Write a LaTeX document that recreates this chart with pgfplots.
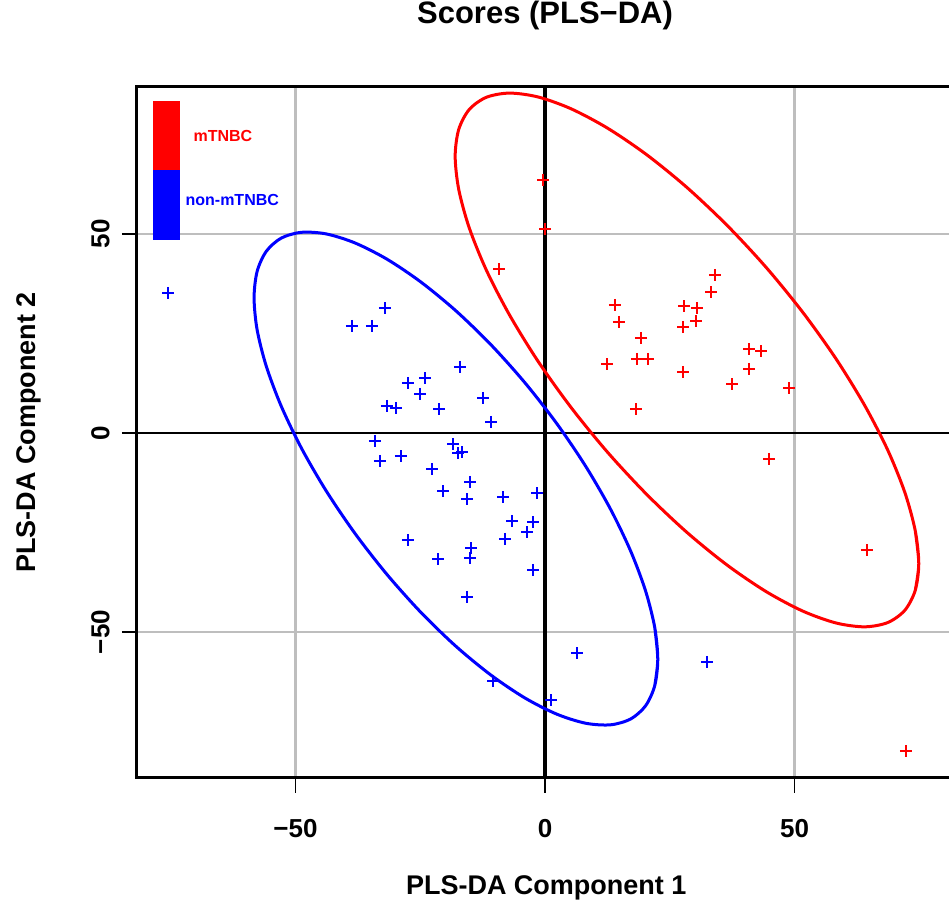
\documentclass[border=0pt]{standalone}
\usepackage{pgfplots}
\pgfplotsset{compat=1.18}
\usepackage{fontspec}
\setmainfont{Liberation Sans}

\definecolor{rred}{RGB}{255,0,0}
\definecolor{rblue}{RGB}{0,0,255}
\definecolor{rgrid}{RGB}{190,190,190}

\begin{document}
\begin{tikzpicture}
\begin{axis}[
  name=ax,
  scale only axis,
  width=406pt, height=345.5pt,
  xmin=-81.76, xmax=80.96,
  ymin=-86.68, ymax=86.93,
  xtick={-50,0,50}, ytick={-50,0,50},
  xticklabels={−50,0,50}, yticklabels={−50,0,50},
  tick pos=left, tick align=outside,
  major tick length=7.5pt,
  tick style={black, line width=0.8pt},
  grid=major,
  major grid style={rgrid, line width=1.4pt},
  axis line style={draw=none},
  tick label style={font=\bfseries\fontsize{13}{15}\selectfont, inner sep=0pt},
  xticklabel style={anchor=north},
  yticklabel style={rotate=90, anchor=south},
  xticklabel shift=13pt,
  yticklabel shift=6pt,
  title={Scores (PLS−DA)},
  title style={at={(axis description cs:0.5025,1.0868)}, anchor=center,
    font=\bfseries\fontsize{15.5}{18}\selectfont},
  xlabel={PLS-DA Component 1},
  xlabel style={at={(axis description cs:0.504,-0.1592)}, anchor=center,
    font=\bfseries\fontsize{13.5}{16}\selectfont},
  ylabel={PLS-DA Component 2},
  ylabel style={at={(axis description cs:-0.133,0.5)}, anchor=center,
    font=\bfseries\fontsize{13.5}{16}\selectfont},
]
% zero lines
\draw[black, line width=2pt] (axis cs:0,-86.68) -- (axis cs:0,86.93);
\draw[black, line width=1pt] (axis cs:-81.76,0) -- (axis cs:80.96,0);

% confidence ellipses, outline points
% (first and last points overlap so the closed curve joins smoothly)
\addplot[rblue, line width=1.5pt, smooth] coordinates {
  (21.99,-63.49)
  (22.60,-56.86) (21.99,-48.85) (20.16,-39.71) (17.18,-29.71) (13.13,-19.14)
  (8.15,-8.36) (2.38,2.33) (-4.02,12.62) (-10.83,22.17) (-17.85,30.69)
  (-24.87,37.93) (-31.68,43.68) (-38.08,47.75) (-43.85,50.02) (-48.83,50.42)
  (-52.88,48.95) (-55.86,45.63) (-57.69,40.59) (-58.30,33.96) (-57.69,25.95)
  (-55.86,16.81) (-52.88,6.81) (-48.83,-3.76) (-43.85,-14.54) (-38.08,-25.23)
  (-31.68,-35.52) (-24.87,-45.07) (-17.85,-53.59) (-10.83,-60.83) (-4.02,-66.58)
  (2.38,-70.65) (8.15,-72.92) (13.13,-73.32) (17.18,-71.85) (20.16,-68.53)
  (21.99,-63.49) (22.60,-56.86)
  (21.99,-48.85)
};
\addplot[rred, line width=1.5pt, smooth] coordinates {
  (74.19,-39.56)
  (74.90,-32.82) (74.19,-24.52) (72.10,-14.91) (68.68,-4.29) (64.03,7.00)
  (58.31,18.65) (51.68,30.28) (44.34,41.57) (36.51,52.14) (28.45,61.68)
  (20.39,69.90) (12.56,76.57) (5.22,81.46) (-1.41,84.43) (-7.13,85.40)
  (-11.78,84.33) (-15.20,81.25) (-17.29,76.26) (-18.00,69.52) (-17.29,61.22)
  (-15.20,51.61) (-11.78,40.99) (-7.13,29.70) (-1.41,18.05) (5.22,6.42)
  (12.56,-4.87) (20.39,-15.44) (28.45,-24.98) (36.51,-33.20) (44.34,-39.87)
  (51.68,-44.76) (58.31,-47.73) (64.03,-48.70) (68.68,-47.63) (72.10,-44.55)
  (74.19,-39.56) (74.90,-32.82)
  (74.19,-24.52)
};

% mTNBC
\addplot[only marks, mark=+, mark size=3pt, rred, mark options={line width=1pt}] coordinates {
  (-0.4,63.5) (0,51.3) (-9.2,41.2) (34.1,39.7) (33.3,35.4) (14.0,32.2)
  (14.8,27.9) (27.9,31.9) (30.5,31.4) (30.3,28.1) (27.7,26.6) (19.2,23.9)
  (18.4,18.6) (20.6,18.6) (12.4,17.3) (27.7,15.3) (40.9,21.1) (43.3,20.6)
  (40.9,16.1) (37.5,12.3) (48.9,11.3) (18.2,6.0) (44.9,-6.5) (64.5,-29.4)
  (72.3,-79.9)
};
% non-mTNBC
\addplot[only marks, mark=+, mark size=3pt, rblue, mark options={line width=1pt}] coordinates {
  (-75.5,35.2) (-32.1,31.4) (-38.7,26.9) (-34.7,26.9) (-17.0,16.6) (-27.5,12.6)
  (-24.0,13.8) (-25.0,9.8) (-31.7,6.8) (-29.9,6.3) (-21.2,6.0) (-12.4,8.8)
  (-10.8,2.8) (-34.1,-2.0) (-18.4,-2.8) (-17.4,-5.0) (-16.6,-4.8) (-28.9,-5.8)
  (-33.1,-7.0) (-22.6,-9.0) (-15.0,-12.3) (-20.4,-14.6) (-15.6,-16.6) (-8.4,-16.1)
  (-1.6,-15.1) (-6.6,-22.1) (-2.4,-22.4) (-3.6,-24.9) (-8.0,-26.6) (-27.5,-26.9)
  (-14.8,-28.9) (-21.4,-31.7) (-15.0,-31.4) (-2.4,-34.4) (-15.6,-41.2) (6.4,-55.3)
  (-10.4,-62.3) (1.2,-67.1) (32.5,-57.5)
};

% legend
\fill[rred] (axis cs:-78.56,66.1) rectangle (axis cs:-73.15,83.4);
\fill[rblue] (axis cs:-78.56,48.5) rectangle (axis cs:-73.15,66.1);
\node[anchor=west, inner sep=0pt, text=rred, font=\bfseries\fontsize{8}{9}\selectfont]
  at (axis cs:-70.5,74.6) {mTNBC};
\node[anchor=west, inner sep=0pt, text=rblue, font=\bfseries\fontsize{8}{9}\selectfont]
  at (axis cs:-72.1,58.5) {non-mTNBC};
\end{axis}
\draw[black, line width=1.5pt] (ax.north east) -- (ax.north west) -- (ax.south west) -- (ax.south east);
\pgfresetboundingbox
\useasboundingbox ([xshift=-68.5pt, yshift=-65pt]ax.south west) rectangle ([yshift=43.5pt]ax.north east);
\end{tikzpicture}
\end{document}
